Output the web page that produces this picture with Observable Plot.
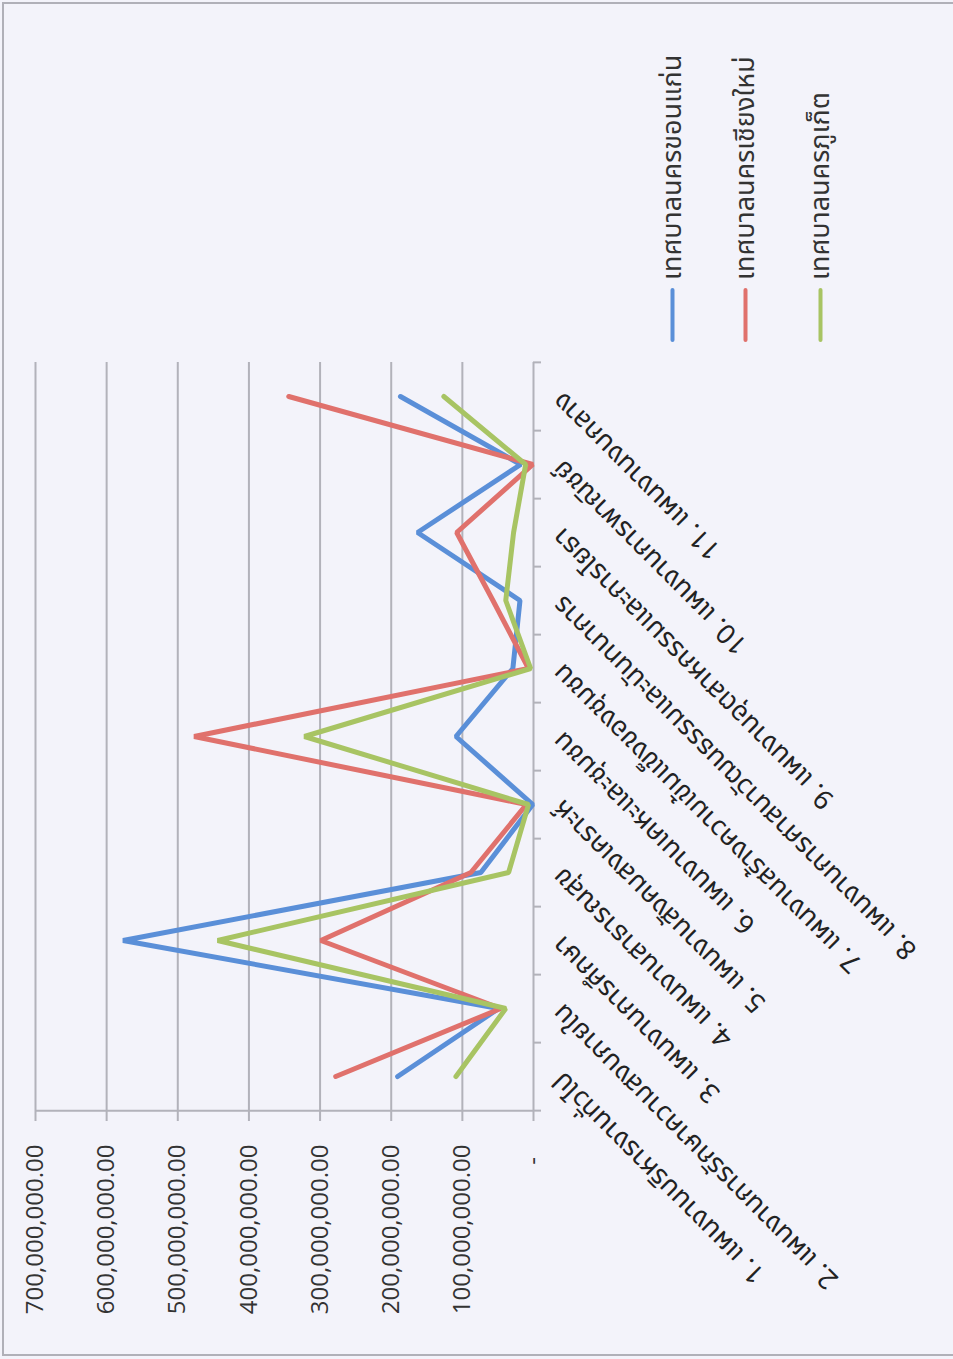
<!DOCTYPE html>
<html><head><meta charset="utf-8">
<script src="https://cdn.jsdelivr.net/npm/d3@7"></script>
<script src="https://cdn.jsdelivr.net/npm/@observablehq/plot@0.6"></script>
<style>
html,body{margin:0;padding:0;background:#f3f3fa;width:953px;height:1359px;overflow:hidden;}
#rot{position:absolute;left:0;top:0;width:1359px;height:953px;transform-origin:0 0;transform:translateY(1359px) rotate(-90deg);}
#border{position:absolute;left:3px;top:2px;width:1354px;height:1000px;border:2px solid #b0b0b8;box-sizing:border-box;}
#chart{position:absolute;left:0;top:0;}
#legend{position:absolute;left:1017px;top:0;font-family:"Noto Sans Thai","Noto Sans",Tahoma,sans-serif;font-size:27px;color:#333;}
.item{position:absolute;left:0;display:flex;align-items:center;white-space:nowrap;transform:translateY(-50%);}
.swatch{width:54px;height:4px;margin-right:8px;border-radius:2px;}
</style>
</head><body>
<div id="rot"><div id="border"></div><div id="chart"></div><div id="legend"></div></div>
<script>
const categories = [
  "1. แผนงานบริหารงานทั่วไป",
  "2. แผนงานการรักษาความสงบภายใน",
  "3. แผนงานการศึกษา",
  "4. แผนงานสาธารณสุข",
  "5. แผนงานสังคมสงเคราะห์",
  "6. แผนงานเคหะและชุมชน",
  "7. แผนงานสร้างความเข้มแข็งของชุมชน",
  "8. แผนงานการศาสนาวัฒนธรรมและนันทนาการ",
  "9. แผนงานอุตสาหกรรมและการโยธา",
  "10. แผนงานการพาณิชย์",
  "11. แผนงานงบกลาง"
];
const seriesNames = ["เทศบาลนครขอนแก่น", "เทศบาลนครเชียงใหม่", "เทศบาลนครภูเก็ต"];
const seriesColors = ["#5a8fd8", "#e0716c", "#a8c463"];
const khonKaen   = [191e6, 49e6, 577e6, 74e6, 1e6, 109e6, 29e6, 19e6, 163e6, 18e6, 187e6];
const chiangMai  = [278e6, 46e6, 299e6, 88e6, 10e6, 477e6, 7e6, 57e6, 108e6, 1e6, 344e6];
const phuket     = [109e6, 39e6, 444e6, 35e6, 7e6, 322e6, 4e6, 39e6, 28e6, 11e6, 126e6];
const yTicks = [0, 100e6, 200e6, 300e6, 400e6, 500e6, 600e6, 700e6];

const seriesValues = [khonKaen, chiangMai, phuket];
const rows = categories.flatMap((c, i) => seriesNames.map((s, j) => ({cat: c, series: s, value: seriesValues[j][i]})));

const W = 1359, H = 953, mL = 246, mR = 362, mT = 35, mB = 420;
const step = (W - mL - mR) / categories.length;
const frameH = H - mT - mB;
const gridColor = "#b2b2ba";
const thaiFont = '"Noto Sans Thai","Noto Sans",Tahoma,sans-serif';
const fmt = d3.format(",.2f");

const chart = Plot.plot({
  width: W, height: H,
  marginLeft: mL, marginRight: mR, marginTop: mT, marginBottom: mB,
  style: {background: "transparent", overflow: "visible"},
  x: {type: "point", domain: categories, padding: 0.5, axis: null},
  y: {domain: [0, 700e6], axis: null},
  color: {domain: seriesNames, range: seriesColors},
  marks: [
    Plot.ruleY(yTicks, {stroke: gridColor, strokeWidth: 2, strokeOpacity: 1}),
    Plot.ruleX([categories[0]], {dx: -step / 2, stroke: gridColor, strokeWidth: 2}),
    Plot.ruleX(categories, {dx: -step / 2, insetTop: frameH, insetBottom: -8, stroke: gridColor, strokeWidth: 2}),
    Plot.ruleX([categories[categories.length - 1]], {dx: step / 2, insetTop: frameH, insetBottom: -8, stroke: gridColor, strokeWidth: 2}),
    Plot.axisY(yTicks, {
      tickSize: 8, tickPadding: 24, stroke: gridColor, strokeWidth: 2,
      tickFormat: d => d === 0 ? "-\u00a0\u00a0" : fmt(d),
      fontSize: 24, fontFamily: "Open Sans, sans-serif", fill: "#333", label: null
    }),
    Plot.line(rows, {x: "cat", y: "value", z: "series", stroke: "series", strokeWidth: 5, strokeLinejoin: "miter", strokeLinecap: "round"}),
    Plot.text(categories, {
      x: d => d, y: () => 0, text: d => d, rotate: -45, textAnchor: "end",
      dy: 24, fontSize: 27, fontFamily: thaiFont, fill: "#222"
    })
  ]
});
document.getElementById("chart").appendChild(chart);

const legendY = [672, 745, 820];
const legend = document.getElementById("legend");
seriesNames.forEach((name, i) => {
  const item = document.createElement("div");
  item.className = "item";
  item.style.top = legendY[i] + "px";
  const sw = document.createElement("span");
  sw.className = "swatch";
  sw.style.background = seriesColors[i];
  const tx = document.createElement("span");
  tx.textContent = name;
  item.appendChild(sw); item.appendChild(tx);
  legend.appendChild(item);
});
</script>
</body></html>
